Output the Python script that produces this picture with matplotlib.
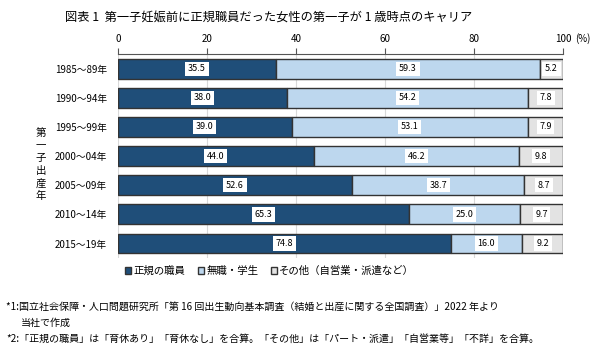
import matplotlib.pyplot as plt
import numpy as np

plt.rcParams['font.family'] = ['Noto Sans CJK JP', 'DejaVu Sans']

# data
years = ["1985～89年", "1990～94年", "1995～99年", "2000～04年",
         "2005～09年", "2010～14年", "2015～19年"]
seiki = [35.5, 38.0, 39.0, 44.0, 52.6, 65.3, 74.8]
mushoku = [59.3, 54.2, 53.1, 46.2, 38.7, 25.0, 16.0]
sonota = [5.2, 7.8, 7.9, 9.8, 8.7, 9.7, 9.2]
series_names = ["正規の職員", "無職・学生", "その他（自営業・派遣など）"]
colors = ["#1f4e79", "#bdd7ee", "#e3e3e3"]

fig = plt.figure(figsize=(5.99, 3.54), dpi=100)
ax = fig.add_axes([0.197, 0.271, 0.743, 0.576])

y = np.arange(len(years))
left = np.zeros(len(years))
for vals, name, col in zip([seiki, mushoku, sonota], series_names, colors):
    vals = np.array(vals)
    ax.barh(y, vals, left=left, height=0.68, color=col, edgecolor="#333333",
            linewidth=1.0, label=name, zorder=2)
    for yi, l, v in zip(y, left, vals):
        ax.text(l + v / 2, yi, f"{v:.1f}", ha="center", va="center", fontsize=6.5,
                bbox=dict(boxstyle="square,pad=0.3", fc="white", ec="none"), zorder=3)
    left = left + vals

ax.set_xlim(0, 100)
ax.set_ylim(len(years) - 0.5, -0.5)
ax.set_yticks(y)
ax.set_yticklabels(years, fontsize=7)
ax.tick_params(axis="y", length=0, pad=8)
ax.xaxis.tick_top()
ax.set_xticks([0, 20, 40, 60, 80, 100])
ax.set_xticklabels(["0", "20", "40", "60", "80", "100"], fontsize=7)
ax.tick_params(axis="x", length=4, color="#555555", pad=3)
ax.annotate("(%)", xy=(1.0, 1.0), xycoords="axes fraction", xytext=(9, 7),
            textcoords="offset points", fontsize=7, va="bottom", ha="left")
for s in ["left", "right", "bottom"]:
    ax.spines[s].set_visible(False)
ax.spines["top"].set_color("#555555")
ax.grid(axis="x", color="#d9d9d9", linewidth=0.8, zorder=0)
ax.set_axisbelow(True)

fig.text(0.068, 0.535, "\n".join("第一子出産年"), fontsize=7.5, ha="center",
         va="center", linespacing=1.3)

fig.text(0.108, 0.95, "図表 1  第一子妊娠前に正規職員だった女性の第一子が 1 歳時点のキャリア",
         ha="left", va="center", fontsize=8.8)

fig.legend(loc="center", bbox_to_anchor=(0.45, 0.234), ncol=3, frameon=False,
           fontsize=7.5, handlelength=0.6, handleheight=0.6, handletextpad=0.2,
           columnspacing=1.2)

fig.text(0.01, 0.133, "*1:国立社会保障・人口問題研究所「第 16 回出生動向基本調査（結婚と出産に関する全国調査）」2022 年より",
         fontsize=7.2, va="center")
fig.text(0.035, 0.088, "当社で作成", fontsize=7.2, va="center")
fig.text(0.01, 0.042, "*2:「正規の職員」は「育休あり」「育休なし」を合算。「その他」は「パート・派遣」「自営業等」「不詳」を合算。",
         fontsize=7.2, va="center")

fig.savefig("out.png", dpi=100)
